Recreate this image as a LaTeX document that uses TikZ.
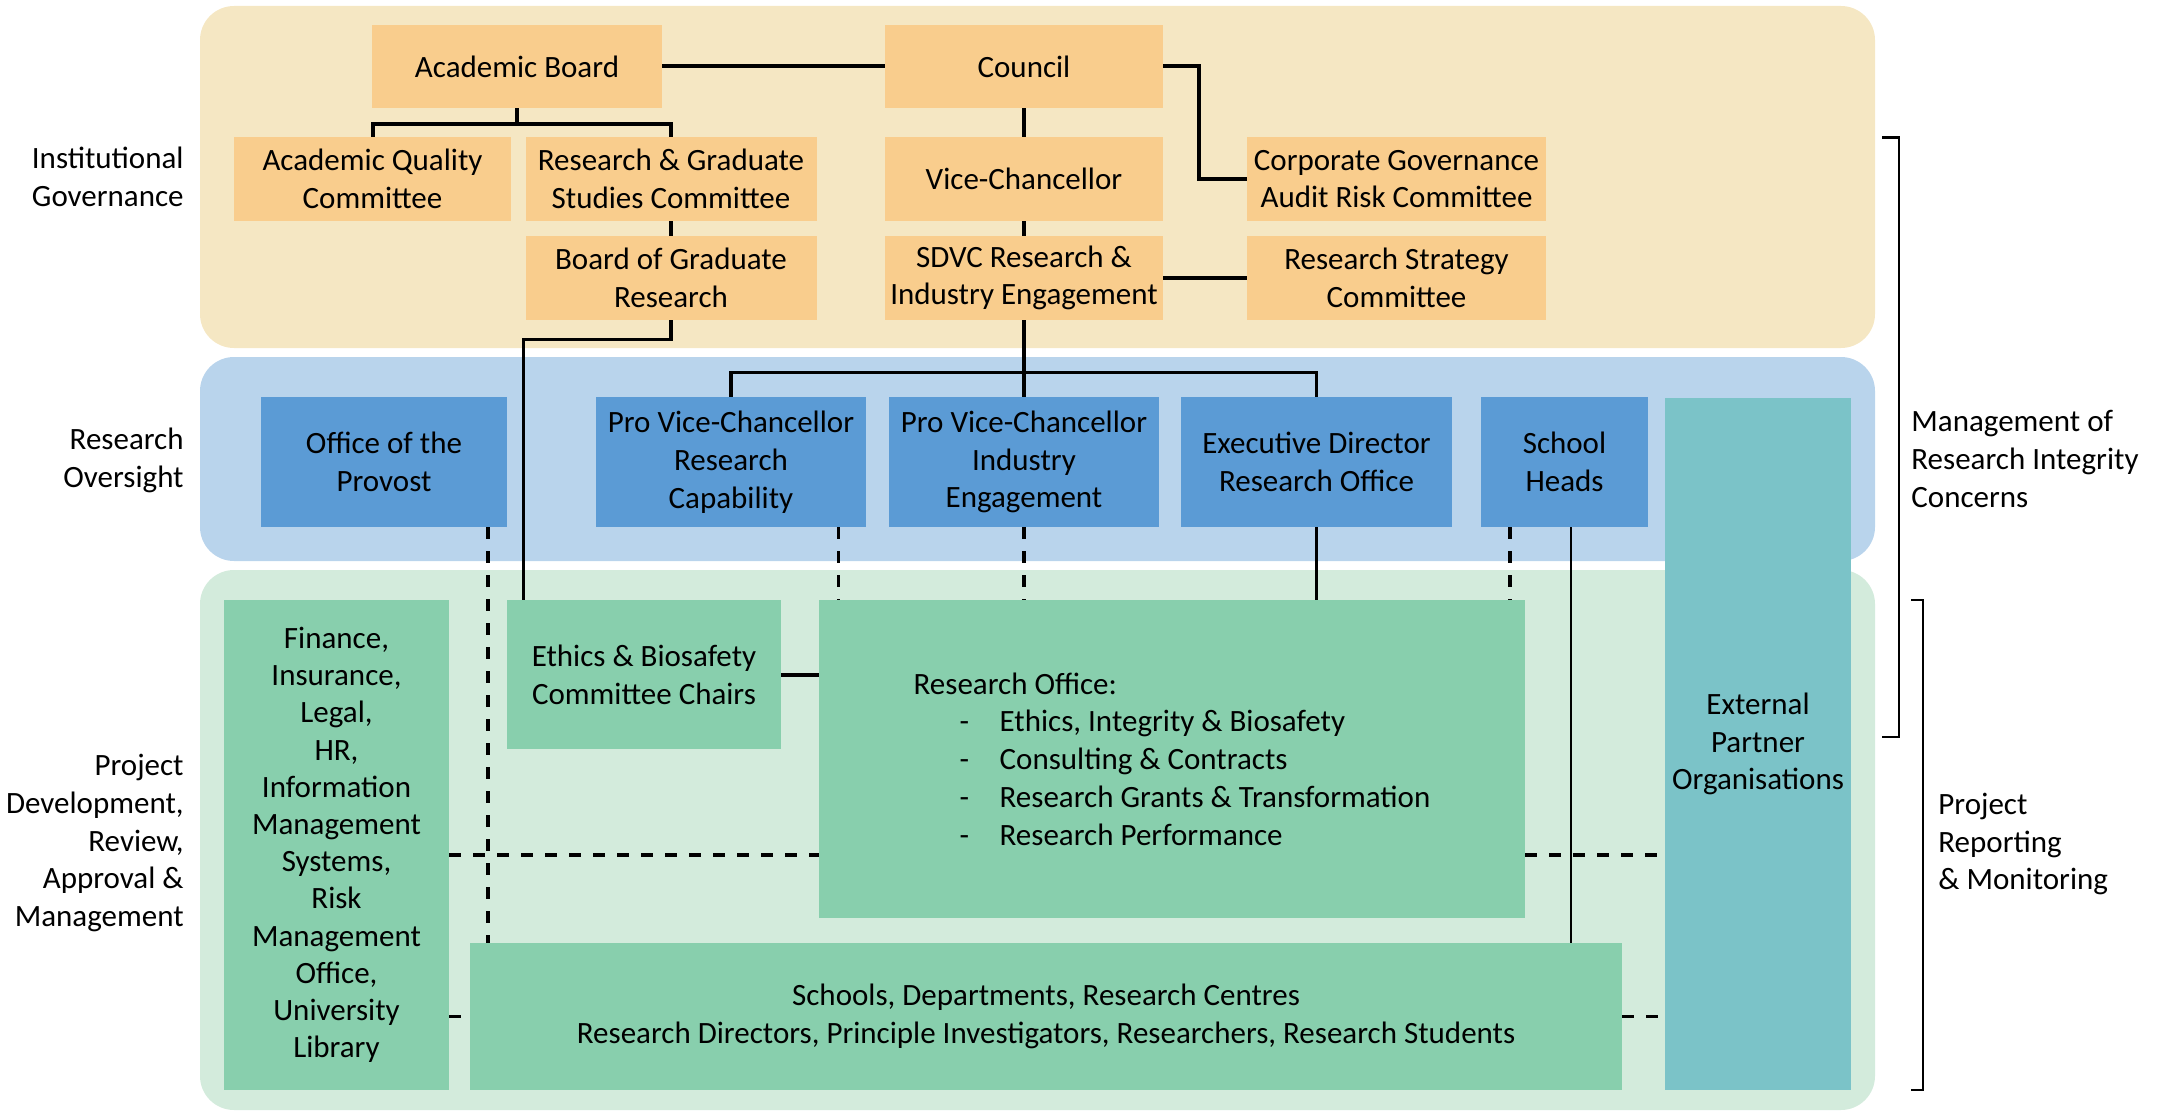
\documentclass[tikz,border=0pt]{standalone}
\usepackage{fontspec}
\setmainfont{Carlito}
\usepackage{tikz}

\definecolor{govband}{HTML}{F5E7C3}
\definecolor{govfill}{HTML}{F9CD8D}
\definecolor{ovband}{HTML}{B9D4EC}
\definecolor{ovfill}{HTML}{5B9BD5}
\definecolor{projband}{HTML}{D3EBDC}
\definecolor{projfill}{HTML}{88CFAD}
\definecolor{partnerfill}{HTML}{7BC3C8}

\newcommand{\roitem}[1]{\makebox[43pt][l]{\hspace{23pt}-}#1}

\begin{document}
\begin{tikzpicture}[x=0.5pt,y=-0.5pt,
  every node/.style={font=\fontsize{15.5}{18.9}\selectfont},
  govbox/.style={rectangle,fill=govfill,inner sep=0pt,align=center},
  ovbox/.style={rectangle,fill=ovfill,inner sep=0pt,align=center,minimum height=64.75pt},
  projbox/.style={rectangle,fill=projfill,inner sep=0pt,align=center},
  partnerbox/.style={rectangle,fill=partnerfill,inner sep=0pt,align=center},
  sidelabel/.style={inner sep=0pt},
  link/.style={line width=2pt},
  thinlink/.style={line width=1.4pt},
  linkdash/.style={line width=1.6pt,dash pattern=on 6pt off 6pt},
  bracket/.style={line width=1.3pt}]
\useasboundingbox (0,0) rectangle (2159,1113);

% bands
\fill[govband,rounded corners=17pt] (200,6) rectangle (1875,348);
\fill[ovband,rounded corners=17pt] (200,357) rectangle (1875,561);
\fill[projband,rounded corners=17pt] (200,570) rectangle (1875,1110);

% institutional governance
\node[govbox,minimum width=145pt,minimum height=41.5pt] (acboard) at (517,66.5) {Academic Board};
\node[govbox,minimum width=139pt,minimum height=41.5pt] (council) at (1024,66.5) {Council};
\node[govbox,minimum width=138.5pt,minimum height=42pt] (aqc) at (372.5,179) {Academic Quality\\Committee};
\node[govbox,minimum width=145.5pt,minimum height=42pt] (rgsc) at (671,179) {Research \& Graduate\\Studies Committee};
\node[govbox,minimum width=145.5pt,minimum height=42pt] (bgr) at (671,278) {Board of Graduate\\Research};
\node[govbox,minimum width=139pt,minimum height=42pt] (vc) at (1024,179) {Vice-Chancellor};
\node[govbox,minimum width=139pt,minimum height=42pt] (sdvc) at (1024,278) {SDVC Research \&\\Industry Engagement};
\node[govbox,minimum width=149.5pt,minimum height=42pt] (cgarc) at (1396.5,179) {Corporate Governance\\Audit Risk Committee};
\node[govbox,minimum width=149.5pt,minimum height=42pt] (rsc) at (1396.5,278) {Research Strategy\\Committee};

% research oversight
\node[ovbox,minimum width=123pt] (provost) at (384,462) {Office of the\\Provost};
\node[ovbox,minimum width=135pt] (pvcrc) at (731,462) {Pro Vice-Chancellor\\Research\\Capability};
\node[ovbox,minimum width=135pt] (pvcie) at (1024,462) {Pro Vice-Chancellor\\Industry\\Engagement};
\node[ovbox,minimum width=135.5pt] (execdir) at (1316.5,462) {Executive Director\\Research Office};
\node[ovbox,minimum width=83.5pt] (schoolheads) at (1564.5,462) {School\\Heads};
\node[partnerbox,minimum width=93pt,minimum height=346pt] (external) at (1758,744) {External\\Partner\\Organisations};

% project development
\node[projbox,minimum width=112.5pt,minimum height=245pt,font=\fontsize{15.5}{18.6}\selectfont] (finance) at (336.5,845) {Finance,\\Insurance,\\Legal,\\HR,\\Information\\Management\\Systems,\\Risk\\Management\\Office,\\University\\Library};
\node[projbox,minimum width=137pt,minimum height=74.5pt] (ethics) at (644,674.5) {Ethics \& Biosafety\\Committee Chairs};
\node[projbox,minimum width=353pt,minimum height=159pt,align=left] (resoffice) at (1172,759) {Research Office:\\\roitem{Ethics, Integrity \& Biosafety}\\\roitem{Consulting \& Contracts}\\\roitem{Research Grants \& Transformation}\\\roitem{Research Performance}};
\node[projbox,minimum width=576pt,minimum height=73.5pt] (schools) at (1046,1016.5) {Schools, Departments, Research Centres\\Research Directors, Principle Investigators, Researchers, Research Students};

% side labels
\node[sidelabel,anchor=east,align=right] (instgov) at (184,177) {Institutional\\Governance};
\node[sidelabel,anchor=east,align=right] (resov) at (184,460) {Research\\Oversight};
\node[sidelabel,anchor=east,align=right] (projdev) at (184,843) {Project\\Development,\\Review,\\Approval \&\\Management};
\node[sidelabel,anchor=west,align=left] (mgmt) at (1911,459) {Management of\\Research Integrity\\Concerns};
\node[sidelabel,anchor=west,align=left] (projrep) at (1938,844) {Project\\Reporting\\\& Monitoring};

% governance links
\coordinate (acsplit) at (517,124);
\coordinate (sdsplit) at (1024,372.5);
\draw[link] (acboard.east) -- (council.west);
\draw[link] (council.east) -- ++(36,0) |- (cgarc.west);
\draw[link] (acboard.south) -- (acsplit);
\draw[link] (aqc.north) |- (acsplit) -| (rgsc.north);
\draw[link] (rgsc.south) -- (bgr.north);
\draw[link] (council.south) -- (vc.north);
\draw[link] (vc.south) -- (sdvc.north);
\draw[link] (sdvc.east) -- (rsc.west);
\draw[link,line width=1.7pt] (bgr.south) -- ++(0,19) -| ([xshift=8.5pt]ethics.north west);
\draw[link,line width=1.7pt] (sdvc.south) -- (pvcie.north);
\draw[link,line width=1.7pt] (pvcrc.north) |- (sdsplit) -| (execdir.north);

% oversight links
\coordinate (provdrop) at ([xshift=-9.75pt]provost.south east);
\coordinate (rcdrop) at ([xshift=-14pt]pvcrc.south east);
\coordinate (shdrop) at ([xshift=-27.25pt]schoolheads.south);
\coordinate (shline) at ([xshift=3.25pt]schoolheads.south);
\draw[linkdash] (provdrop) -- (provdrop |- schools.north);
\draw[linkdash] (rcdrop) -- (rcdrop |- resoffice.north);
\draw[linkdash] (pvcie.south) -- (pvcie.south |- resoffice.north);
\draw[thinlink] (execdir.south) -- (execdir.south |- resoffice.north);
\draw[linkdash] (shdrop) -- (shdrop |- resoffice.north);
\draw[thinlink] (shline) -- (shline |- schools.north);

% project links
\coordinate (finro) at ([yshift=-5pt]finance.east);
\draw[link] (ethics.east) -- (ethics.east -| resoffice.west);
\draw[linkdash] (finro) -- (finro -| resoffice.west);
\draw[linkdash] (finro -| resoffice.east) -- (finro -| external.west);
\draw[linkdash] (schools.west -| finance.east) -- (schools.west);
\draw[linkdash] (schools.east) -- (schools.east -| external.west);

% brackets
\draw[bracket] (1882,137.5) -| (1899,737) -- (1882,737);
\draw[bracket] (1911,600) -| (1923,1090) -- (1911,1090);
\end{tikzpicture}
\end{document}
